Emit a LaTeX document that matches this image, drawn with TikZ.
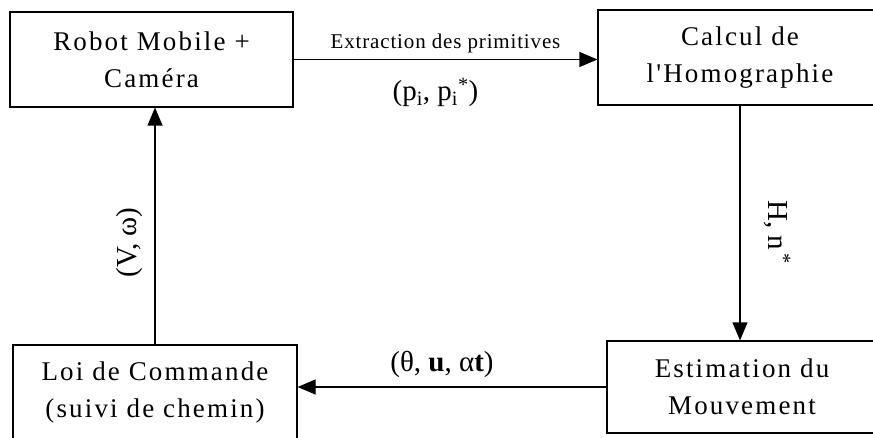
\documentclass[tikz,border=0pt]{standalone}
\usepackage{fontspec}
\setmainfont{Liberation Serif}
\newfontfamily\boxfamily[LetterSpace=8]{Liberation Serif}
\newfontfamily\labfamily[LetterSpace=4]{Liberation Serif}
\usepackage{tikz}
\usetikzlibrary{arrows.meta,positioning}

\begin{document}
\begin{tikzpicture}[x=1pt, y=1pt,
  box/.style={draw, line width=1.2pt, minimum height=95pt, inner sep=0pt, align=center, font=\boxfamily\fontsize{27}{37}\selectfont},
  lab/.style={font=\labfamily\fontsize{21}{25}\selectfont, inner sep=0pt},
  biglab/.style={font=\fontsize{29}{32}\selectfont, inner sep=0pt},
  arrow/.style={-{Triangle[length=18pt, width=15pt]}, line width=1.2pt}
]
\useasboundingbox (0,0) rectangle (873,437);
\clip (0,0) rectangle (873,437);
% Blocks (the two on the right run past the page edge)
\node[box, minimum width=283pt] (RM) at (151.5,377.5) {Robot Mobile +\\ Caméra};
\node[box, minimum width=284pt] (CH) at (740,379.5) {Calcul de\\ l'Homographie};
\node[box, minimum width=270pt, minimum height=92pt] (EM) at (742,50) {Estimation du\\ Mouvement};
\node[box, minimum width=284pt] (LC) at (155,44.5) {Loi de Commande\\ (suivi de chemin)};
% Loop of arrows
\draw[arrow] (RM.east) -- (CH.west |- RM.east)
  node[lab, midway, above=6pt] (ext) {Extraction des primitives}
  node[biglab, midway, below=18pt, xshift=-10pt] (pp) {(p\textsubscript{i}, p\textsubscript{i}\textsuperscript{*})};
\draw[arrow] (CH.south) -- (CH.south |- EM.north)
  node[biglab, pos=0.54, right=23pt, rotate=-90, anchor=south] (hn) {H, n\textsuperscript{\,*}};
\draw[arrow] (EM.west) -- (LC.east |- EM.west)
  node[biglab, midway, above=9pt, xshift=-10pt] (tu) {(θ, \textbf{u}, α\textbf{t})};
\draw[arrow] (LC.north) -- (LC.north |- RM.south)
  node[biglab, pos=0.43, left=12pt, rotate=90, anchor=south] (vw) {(V, ω)};
\end{tikzpicture}
\end{document}
